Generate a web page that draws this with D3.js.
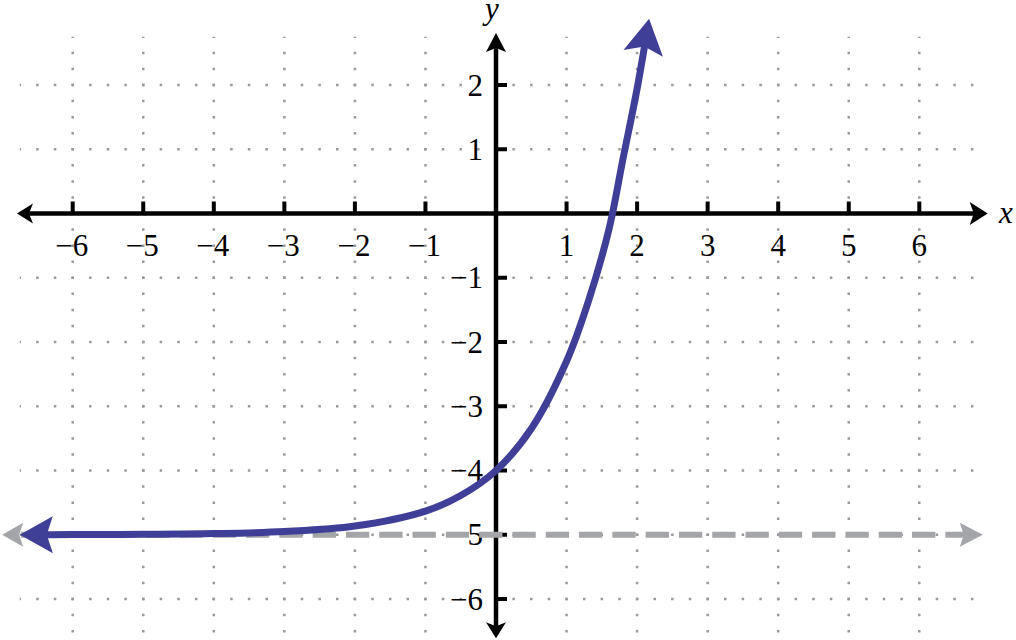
<!DOCTYPE html>
<html>
<head>
<meta charset="utf-8">
<script src="https://cdn.jsdelivr.net/npm/d3@7"></script>
<style>
  html, body { margin: 0; padding: 0; background: #fff; }
  svg { display: block; }
</style>
</head>
<body>
<div id="chart"></div>
<script>
// tick values on each axis
var xTicks = [-6, -5, -4, -3, -2, -1, 1, 2, 3, 4, 5, 6];
var yTicks = [-6, -5, -4, -3, -2, -1, 1, 2];

// axis extents (arrow tips), in data units
var xAxisEnds = [-6.79, 6.97];
var yAxisEnds = [2.81, -6.61];

// grid extent
var gridX = [-6.75, 6.95];
var gridY = [2.75, -6.75];

// horizontal asymptote
var asymptoteY = -5;
var asymptoteX = [-7.0, 6.9];

// curve (first and last points are arrow tips)
var curveX = [-6.75, -6, -5, -4, -3, -2, -1, -0.5, 0, 0.5, 1, 1.3, 1.6, 1.8, 2.01, 2.17];
var curveY = [-5.0, -4.998, -4.993, -4.982, -4.95, -4.865, -4.632, -4.39, -4.0, -3.35, -2.3, -1.4, -0.25, 0.85, 2.0, 3.03];

var width = 1016, height = 640;
var FONT = "'Liberation Serif', 'Times New Roman', Times, serif";

var x = d3.scaleLinear().domain([-6, 6]).range([72.7, 919.3]);
var y = d3.scaleLinear().domain([2, -6]).range([85, 599]);

var svg = d3.select("#chart").append("svg")
    .attr("width", width)
    .attr("height", height)
    .style("font-family", FONT)
    .style("font-size", "31px");

// arrow head polygon: tip point, unit direction (pointing toward tip)
function arrowHead(tip, dir, len, half, notch) {
    var px = -dir[1], py = dir[0];
    var bx = tip[0] - dir[0] * len, by = tip[1] - dir[1] * len;
    var nx = tip[0] - dir[0] * (len - notch), ny = tip[1] - dir[1] * (len - notch);
    return "M" + tip[0] + "," + tip[1] +
        "L" + (bx + px * half) + "," + (by + py * half) +
        "L" + nx + "," + ny +
        "L" + (bx - px * half) + "," + (by - py * half) + "Z";
}

function unit(a, b) {
    var dx = b[0] - a[0], dy = b[1] - a[1];
    var l = Math.sqrt(dx * dx + dy * dy);
    return [dx / l, dy / l];
}

// grid
var grid = svg.append("g").attr("class", "grid")
    .attr("stroke", "#9a9a9a")
    .attr("stroke-width", 2.5);

var xStep = (x(1) - x(0)) / 4;
var yStep = (y(0) - y(1)) / 4;

d3.range(-6, 3).forEach(function(v) {
    grid.append("line")
        .attr("x1", x(gridX[0])).attr("x2", x(gridX[1]))
        .attr("y1", y(v)).attr("y2", y(v))
        .attr("stroke-dasharray", "2.5," + (xStep - 2.5))
        .attr("stroke-dashoffset", 1.25);
});
d3.range(-6, 7).forEach(function(v) {
    grid.append("line")
        .attr("x1", x(v)).attr("x2", x(v))
        .attr("y1", y(gridY[0])).attr("y2", y(gridY[1]))
        .attr("stroke-dasharray", "2.5," + (yStep - 2.5))
        .attr("stroke-dashoffset", 1.25);
});

// axes
var axes = svg.append("g").attr("class", "axes");
var x0 = x(0), y0 = y(0);

axes.append("line")
    .attr("x1", x(xAxisEnds[0]) + 10).attr("x2", x(xAxisEnds[1]) - 12)
    .attr("y1", y0).attr("y2", y0)
    .attr("stroke", "#000").attr("stroke-width", 4.5);
axes.append("line")
    .attr("x1", x0).attr("x2", x0)
    .attr("y1", y(yAxisEnds[0]) + 12).attr("y2", y(yAxisEnds[1]) - 10)
    .attr("stroke", "#000").attr("stroke-width", 4.5);

axes.append("path").attr("d", arrowHead([x(xAxisEnds[0]), y0], [-1, 0], 16, 10, 4));
axes.append("path").attr("d", arrowHead([x(xAxisEnds[1]), y0], [1, 0], 18, 11.5, 4));
axes.append("path").attr("d", arrowHead([x0, y(yAxisEnds[0])], [0, -1], 19, 10, 4));
axes.append("path").attr("d", arrowHead([x0, y(yAxisEnds[1])], [0, 1], 16, 10, 4));

// ticks
axes.selectAll(".xtick").data(xTicks).enter().append("line")
    .attr("class", "xtick")
    .attr("x1", function(d) { return x(d); })
    .attr("x2", function(d) { return x(d); })
    .attr("y1", y0 - 12).attr("y2", y0)
    .attr("stroke", "#000").attr("stroke-width", 4);
axes.selectAll(".ytick").data(yTicks).enter().append("line")
    .attr("class", "ytick")
    .attr("x1", x0).attr("x2", x0 + 11)
    .attr("y1", function(d) { return y(d); })
    .attr("y2", function(d) { return y(d); })
    .attr("stroke", "#000").attr("stroke-width", 4);

function fmt(v) { return v < 0 ? "\u2212" + (-v) : String(v); }

// tick labels
svg.append("g").selectAll("text").data(xTicks).enter().append("text")
    .attr("x", function(d) { return x(d) + (d < 0 ? -1 : 0); })
    .attr("y", y0 + 42)
    .attr("text-anchor", "middle")
    .text(fmt);

svg.append("g").selectAll("text").data(yTicks).enter().append("text")
    .attr("x", x0 - 13)
    .attr("y", function(d) { return y(d) + 10.5; })
    .attr("text-anchor", "end")
    .text(fmt);

// axis names
svg.append("text").attr("x", 999).attr("y", y0 + 9)
    .attr("font-style", "italic").text("x");
svg.append("text").attr("x", 485).attr("y", 19)
    .attr("font-style", "italic").text("y");

// asymptote
var grayColor = "#a3a5a8";
var ay = y(asymptoteY);
var gLeft = x(asymptoteX[0]), gRight = x(asymptoteX[1]);
svg.append("line")
    .attr("x1", gLeft + 19).attr("x2", gRight - 17)
    .attr("y1", ay).attr("y2", ay)
    .attr("stroke", grayColor).attr("stroke-width", 6)
    .attr("stroke-dasharray", "23.3,10")
    .attr("stroke-dashoffset", 8.2);
svg.append("path").attr("fill", grayColor)
    .attr("d", arrowHead([gLeft, ay], [-1, 0], 21, 12, 4));
svg.append("path").attr("fill", grayColor)
    .attr("d", arrowHead([gRight, ay], [1, 0], 23, 12, 4));

// curve
var blue = "#403f98";
var pts = curveX.map(function(v, i) { return [x(v), y(curveY[i])]; });
var line = d3.line().curve(d3.curveCatmullRom.alpha(0.5));

var curvePath = svg.append("path")
    .attr("d", line(pts))
    .attr("fill", "none")
    .attr("stroke", blue)
    .attr("stroke-width", 7);

var leftLen = 33, topLen = 35;
var total = curvePath.node().getTotalLength();
var startCut = leftLen - 8, endCut = topLen - 8;
curvePath.attr("stroke-dasharray", "0," + startCut + "," + (total - startCut - endCut) + "," + total);

var n = pts.length;
svg.append("path").attr("fill", blue)
    .attr("d", arrowHead(pts[0], unit(pts[2], pts[0]), leftLen, 18.5, 6));
svg.append("path").attr("fill", blue)
    .attr("d", arrowHead(pts[n - 1], unit(pts[n - 2], pts[n - 1]), topLen, 20, 7));
</script>
</body>
</html>
